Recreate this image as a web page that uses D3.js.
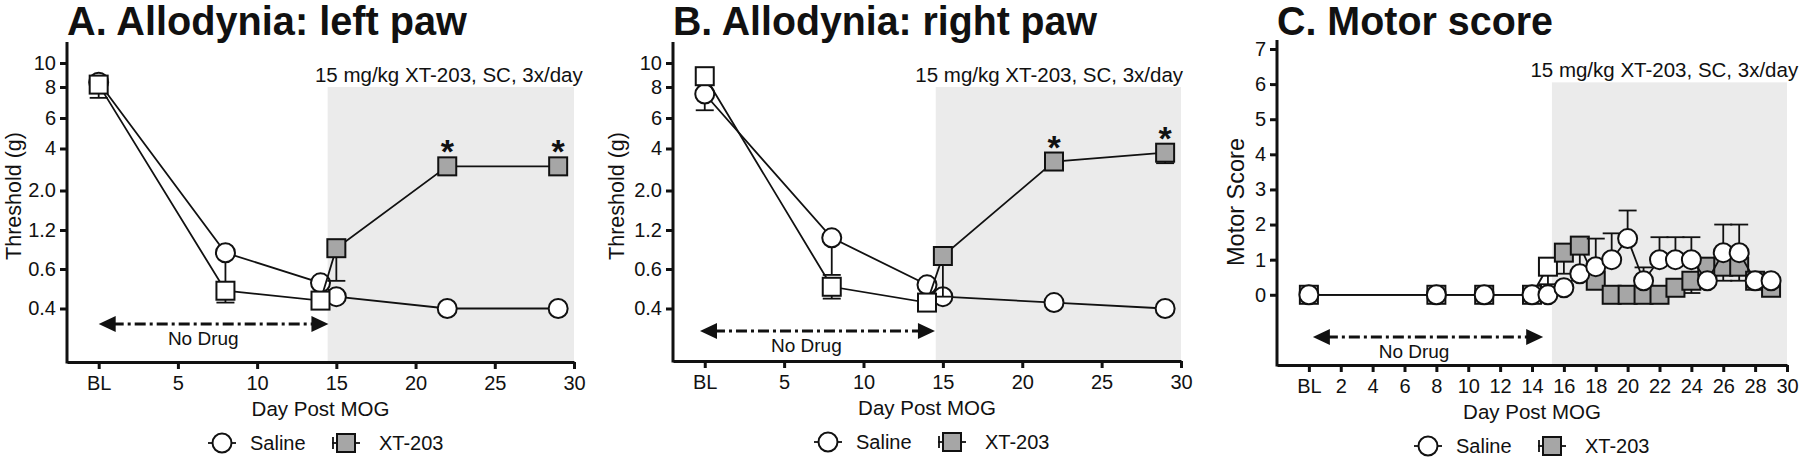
<!DOCTYPE html>
<html>
<head>
<meta charset="utf-8">
<title>XT-203: allodynia and motor score</title>
<script src="https://d3js.org/d3.v7.min.js"></script>
<style>
  body { margin: 0; background: #fff; }
  svg text { font-family: "Liberation Sans", Arial, Helvetica, sans-serif; fill: #111; }
</style>
</head>
<body>
<svg width="1800" height="459" id="mainsvg"></svg>
<script>
// ---------- data ----------
const thresholdTicks = [10, 8, 6, 4, 2, 1.2, 0.6, 0.4];
const thresholdLabels = ['10', '8', '6', '4', '2.0', '1.2', '0.6', '0.4'];
const motorTicks = [0, 1, 2, 3, 4, 5, 6, 7];
const dayTicksAB = [0, 5, 10, 15, 20, 25, 30];
const dayTicksC = [0, 2, 4, 6, 8, 10, 12, 14, 16, 18, 20, 22, 24, 26, 28, 30];

// A. left paw (g)
const leftDays = [0, 8, 14, 15, 22, 29];
const leftSaline = [8.4, 0.85, 0.53, 0.46, 0.40, 0.40];
const leftSalineSem = [0, 0.35, 0, 0, 0, 0];
const leftXt = [8.2, 0.49, 0.44, 0.92, 3.15, 3.15];
const leftXtSem = [0.9, 0.06, 0, 0.38, 0, 0];
const leftStars = [22, 29];

// B. right paw (g)
const rightDays = [0, 8, 14, 15, 22, 29];
const rightSaline = [7.55, 1.08, 0.52, 0.46, 0.43, 0.40];
const rightSalineSem = [1.05, 0.51, 0, 0, 0, 0];
const rightXt = [8.9, 0.51, 0.43, 0.80, 3.38, 3.80];
const rightXtSem = [0, 0.06, 0, 0.34, 0, 0.5];
const rightStars = [22, 29];

// C. motor score
const motorDays = [0, 8, 11, 14, 15, 16, 17, 18, 19, 20, 21, 22, 23, 24, 25, 26, 27, 28, 29];
const motorSaline = [0, 0, 0, 0, 0, 0.2, 0.6, 0.8, 1.0, 1.6, 0.4, 1.0, 1.0, 1.0, 0.4, 1.2, 1.2, 0.4, 0.4];
const motorSalineSem = [0, 0, 0, 0, 0, 0, 0, 0.8, 0.75, 0.8, 0.38, 0.64, 0.64, 0.64, 0, 0.8, 0.8, 0, 0];
const motorXt = [0, 0, 0, 0, 0.8, 1.2, 1.4, 0.4, 0, 0, 0, 0, 0.2, 0.4, 0.8, 0.8, 0.8, 0.4, 0.2];
const motorXtSem = [0, 0, 0, 0, 0.5, 0.6, 0.8, 0, 0, 0, 0, 0, 0, 0.35, 0.4, 0.4, 0.4, 0, 0];

const noteText = '15 mg/kg XT-203, SC, 3x/day';

// ---------- layout ----------
const GRAY = '#a6a6a6', SHADE = '#ebebeb', INK = '#111';
// threshold axis is segmented (not log): pixel rows of the tick values
const thrTickY = [63, 87, 118, 148.5, 190.5, 230, 269, 308.5];

const svg = d3.select('#mainsvg');
svg.append('rect').attr('width', 1800).attr('height', 459).attr('fill', '#fff');

const panels = [
  {
    title: 'A. Allodynia: left paw', titleLen: 400, left: 67, right: 574, top: 42, bottom: 362,
    y: d3.scaleLinear().domain(thresholdTicks).range(thrTickY),
    yTicks: thresholdTicks, yLabels: thresholdLabels, yTitle: 'Threshold (g)', yTitleX: 13, yTitleY: 196, yTitleSize: 21.5,
    xTicks: dayTicksAB, shadeFrom: 14.45, shadeTop: 8, noteDay: 22.1,
    arrowFrom: 0, arrowTo: 14.5, arrowUp: 38, noDrugDay: 6.6,
    days: leftDays, saline: leftSaline, salineSem: leftSalineSem, xt: leftXt, xtSem: leftXtSem,
    salineDir: -1, xtDir: -1, salineFirst: true, stars: leftStars, legendDx: 0
  },
  {
    title: 'B. Allodynia: right paw', titleLen: 424, left: 673, right: 1181, top: 42, bottom: 361,
    y: d3.scaleLinear().domain(thresholdTicks).range(thrTickY),
    yTicks: thresholdTicks, yLabels: thresholdLabels, yTitle: 'Threshold (g)', yTitleX: 616, yTitleY: 196, yTitleSize: 21.5,
    xTicks: dayTicksAB, shadeFrom: 14.55, shadeTop: 8, noteDay: 21.7,
    arrowFrom: -0.3, arrowTo: 14.5, arrowUp: 30, noDrugDay: 6.4,
    days: rightDays, saline: rightSaline, salineSem: rightSalineSem, xt: rightXt, xtSem: rightXtSem,
    salineDir: -1, xtDir: -1, salineFirst: true, stars: rightStars, legendDx: 0
  },
  {
    title: 'C. Motor score', titleLen: 276, left: 1277, right: 1787, top: 40, bottom: 365,
    y: d3.scaleLinear().domain([-2, 7]).range([365, 49]),
    yTicks: motorTicks, yLabels: motorTicks.map(String), yTitle: 'Motor Score', yTitleX: 1236, yTitleY: 202, yTitleSize: 23.5,
    xTicks: dayTicksC, shadeFrom: 15.25, shadeTop: 6.05, noteDay: 22.3,
    arrowFrom: 0.25, arrowTo: 14.7, arrowUp: 28, noDrugDay: 6.6,
    days: motorDays, saline: motorSaline, salineSem: motorSalineSem, xt: motorXt, xtSem: motorXtSem,
    salineDir: 1, xtDir: -1, salineFirst: false, stars: [], legendDx: -4
  }
];

function drawSeries(g, x, y, days, vals, sems, dir, shape, shadeFrom) {
  const pts = days.map((d, i) => ({ day: d, v: vals[i], sem: sems[i] }));
  const line = d3.line().x(d => x(d.day)).y(d => y(d.v));
  g.append('path').attr('d', line(pts)).attr('fill', 'none')
    .attr('stroke', INK).attr('stroke-width', 1.8);

  // error bars (one-sided)
  const bars = pts.filter(d => d.sem > 0);
  g.selectAll(null).data(bars).enter().append('line')
    .attr('x1', d => x(d.day)).attr('x2', d => x(d.day))
    .attr('y1', d => y(d.v)).attr('y2', d => y(d.v + dir * d.sem))
    .attr('stroke', INK).attr('stroke-width', 1.8);
  g.selectAll(null).data(bars).enter().append('line')
    .attr('x1', d => x(d.day) - 9).attr('x2', d => x(d.day) + 9)
    .attr('y1', d => y(d.v + dir * d.sem)).attr('y2', d => y(d.v + dir * d.sem))
    .attr('stroke', INK).attr('stroke-width', 1.8);

  if (shape === 'circle') {
    g.selectAll(null).data(pts).enter().append('circle')
      .attr('cx', d => x(d.day)).attr('cy', d => y(d.v)).attr('r', 9.5)
      .attr('fill', '#fff').attr('stroke', INK).attr('stroke-width', 2);
  } else {
    g.selectAll(null).data(pts).enter().append('rect')
      .attr('x', d => x(d.day) - 9).attr('y', d => y(d.v) - 9)
      .attr('width', 18).attr('height', 18)
      .attr('fill', d => d.day > shadeFrom ? GRAY : '#fff')
      .attr('stroke', INK).attr('stroke-width', 2);
  }
}

panels.forEach(p => {
  const g = svg.append('g');
  const x = d3.scaleLinear().domain([-2, 30]).range([p.left, p.right]);
  const y = p.y;

  // drug window
  g.append('rect')
    .attr('x', x(p.shadeFrom)).attr('y', y(p.shadeTop))
    .attr('width', x(30) - x(p.shadeFrom)).attr('height', p.bottom - y(p.shadeTop))
    .attr('fill', SHADE);
  g.append('text').attr('x', x(p.noteDay)).attr('y', y(p.shadeTop) - 5)
    .attr('text-anchor', 'middle').attr('font-size', 20.5).text(noteText);

  // title
  g.append('text').attr('x', p.left).attr('y', 35)
    .attr('font-size', 40).attr('font-weight', 'bold')
    .attr('textLength', p.titleLen).attr('lengthAdjust', 'spacingAndGlyphs')
    .text(p.title);

  // "No Drug" arrow
  const ay = p.bottom - p.arrowUp;
  const ax0 = x(p.arrowFrom), ax1 = x(p.arrowTo);
  g.append('line').attr('x1', ax0 + 14).attr('x2', ax1 - 14).attr('y1', ay).attr('y2', ay)
    .attr('stroke', INK).attr('stroke-width', 3).attr('stroke-dasharray', '11,4,3,4');
  g.append('path').attr('d', `M${ax0},${ay}L${ax0 + 17},${ay - 8}L${ax0 + 17},${ay + 8}Z`).attr('fill', INK);
  g.append('path').attr('d', `M${ax1},${ay}L${ax1 - 17},${ay - 8}L${ax1 - 17},${ay + 8}Z`).attr('fill', INK);
  g.append('text').attr('x', x(p.noDrugDay)).attr('y', ay + 21)
    .attr('text-anchor', 'middle').attr('font-size', 19).text('No Drug');

  // axes
  const gx = g.append('g').attr('transform', `translate(0,${p.bottom})`)
    .call(d3.axisBottom(x).tickValues(p.xTicks).tickFormat(d => d === 0 ? 'BL' : d)
      .tickSize(7).tickSizeOuter(0).tickPadding(7));
  gx.select('.domain').attr('stroke', INK).attr('stroke-width', 3);
  gx.selectAll('.tick line').attr('stroke', INK).attr('stroke-width', 3);
  gx.selectAll('.tick text').attr('font-size', 20).attr('font-family', null).attr('fill', INK);

  const gy = g.append('g').attr('transform', `translate(${p.left},0)`)
    .call(d3.axisLeft(y).tickValues(p.yTicks).tickFormat((d, i) => p.yLabels[i])
      .tickSize(7).tickPadding(4));
  gy.select('.domain').remove();
  gy.selectAll('.tick line').attr('stroke', INK).attr('stroke-width', 3);
  gy.selectAll('.tick text').attr('font-size', 20).attr('font-family', null).attr('fill', INK);
  g.append('line').attr('x1', p.left).attr('x2', p.left).attr('y1', p.top).attr('y2', p.bottom + 1.5)
    .attr('stroke', INK).attr('stroke-width', 3);

  g.append('text').attr('transform', `translate(${p.yTitleX},${p.yTitleY}) rotate(-90)`)
    .attr('text-anchor', 'middle').attr('dy', '0.35em').attr('font-size', p.yTitleSize).text(p.yTitle);
  g.append('text').attr('x', (p.left + p.right) / 2).attr('y', p.bottom + 54)
    .attr('text-anchor', 'middle').attr('font-size', 20.5).text('Day Post MOG');

  // data
  const plot = g.append('g');
  const drawSal = () => drawSeries(plot, x, y, p.days, p.saline, p.salineSem, p.salineDir, 'circle', p.shadeFrom);
  const drawXt = () => drawSeries(plot, x, y, p.days, p.xt, p.xtSem, p.xtDir, 'square', p.shadeFrom);
  if (p.salineFirst) { drawSal(); drawXt(); } else { drawXt(); drawSal(); }

  p.stars.forEach(day => {
    const i = p.days.indexOf(day);
    plot.append('text').attr('x', x(day)).attr('y', y(p.xt[i]) - 3)
      .attr('text-anchor', 'middle').attr('font-size', 34).attr('font-weight', 'bold').text('*');
  });

  // legend
  const ly = p.bottom + 81;
  const lg = g.append('g').attr('transform', `translate(${p.left + p.legendDx},${ly})`);
  lg.append('line').attr('x1', 141).attr('x2', 169).attr('stroke', INK).attr('stroke-width', 1.8);
  lg.append('circle').attr('cx', 155).attr('r', 9.5).attr('fill', '#fff').attr('stroke', INK).attr('stroke-width', 2);
  lg.append('text').attr('x', 183).attr('dy', '0.35em').attr('font-size', 20).text('Saline');
  lg.append('line').attr('x1', 265).attr('x2', 293).attr('stroke', INK).attr('stroke-width', 1.8);
  lg.append('line').attr('x1', 266).attr('x2', 266).attr('y1', -6).attr('y2', 6).attr('stroke', INK).attr('stroke-width', 1.8);
  lg.append('rect').attr('x', 270).attr('y', -9).attr('width', 18).attr('height', 18)
    .attr('fill', GRAY).attr('stroke', INK).attr('stroke-width', 2);
  lg.append('text').attr('x', 312).attr('dy', '0.35em').attr('font-size', 20).text('XT-203');
});
</script>
</body>
</html>
